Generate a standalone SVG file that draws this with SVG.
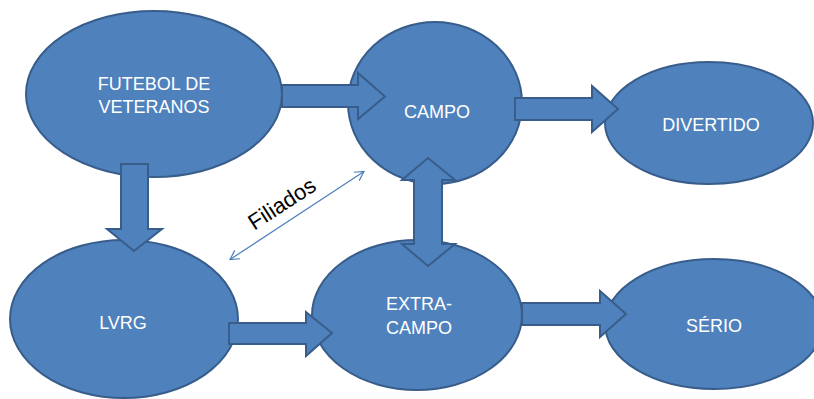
<svg xmlns="http://www.w3.org/2000/svg" width="814" height="399" viewBox="0 0 814 399">
<style>
.node{fill:#4f81bd;stroke:#385d8a;stroke-width:2}
.lbl{fill:#ffffff;font-family:"Liberation Sans",Arial,sans-serif;font-size:18px;text-anchor:middle}
.blk{fill:#4f81bd;stroke:#385d8a;stroke-width:2;stroke-linejoin:miter}
.thin{fill:none;stroke:#4a7ebb;stroke-width:1.2}
</style>
<defs>
<marker id="vhead" markerUnits="userSpaceOnUse" markerWidth="12" markerHeight="12" refX="9" refY="5" orient="auto-start-reverse" viewBox="0 0 12 10">
<path d="M0,0 L9,5 L0,10" fill="none" stroke="#4a7ebb" stroke-width="1.2"/>
</marker>
</defs>
<rect width="814" height="399" fill="#ffffff"/>
<g id="futebol">
<ellipse class="node" cx="154" cy="94" rx="128" ry="83"/>
<text class="lbl" x="154" y="90">FUTEBOL DE</text>
<text class="lbl" x="154" y="113">VETERANOS</text>
</g>
<g id="campo">
<ellipse class="node" cx="435" cy="103" rx="87" ry="81"/>
<text class="lbl" x="437" y="118">CAMPO</text>
</g>
<g id="divertido">
<ellipse class="node" cx="709" cy="123" rx="104" ry="61"/>
<text class="lbl" x="711" y="131">DIVERTIDO</text>
</g>
<g id="lvrg">
<ellipse class="node" cx="124" cy="319" rx="114" ry="79"/>
<text class="lbl" x="123" y="329">LVRG</text>
</g>
<g id="extracampo">
<ellipse class="node" cx="417" cy="315" rx="105" ry="75"/>
<text class="lbl" x="419" y="310">EXTRA-</text>
<text class="lbl" x="419" y="334">CAMPO</text>
</g>
<g id="serio">
<ellipse class="node" cx="714" cy="324" rx="109" ry="65"/>
<text class="lbl" x="714" y="332">SÉRIO</text>
</g>
<g id="connectors">
<polygon class="blk" points="282,85 358,85 358,73 385,96.5 358,119 358,107 282,107"/>
<polygon class="blk" points="515,98 592,98 592,86 618,109 592,132 592,120 515,120"/>
<polygon class="blk" points="121,164 148,164 148,229 162,229 134,251 107,229 121,229"/>
<polygon class="blk" points="229,323 306,323 306,312 332,333 306,356 306,344 229,344"/>
<polygon class="blk" points="522,303 600,303 600,291 626,314 600,337 600,325 522,325"/>
<polygon class="blk" points="428,158 455,180 442,180 442,244 455,244 428,266 402,244 414,244 414,180 402,180"/>
<line class="thin" x1="230" y1="259.5" x2="364" y2="171.5" marker-start="url(#vhead)" marker-end="url(#vhead)"/>
<text x="286" y="210" transform="rotate(-33 286 210)" font-family="'Liberation Sans',Arial,sans-serif" font-size="22" fill="#000000" text-anchor="middle">Filiados</text>
</g>
</svg>
